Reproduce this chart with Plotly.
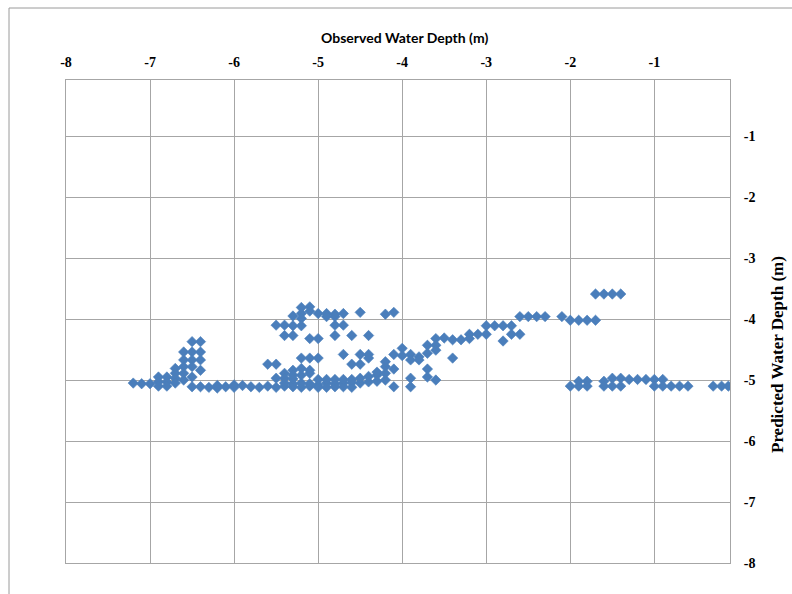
import plotly.graph_objects as go

# Observed vs. predicted water depth (m), grouped by region of the scatter

# left tail and the rising stack near -6.5 m
tail_obs = [-7.2, -7.1, -7.0,
            -6.9, -6.9, -6.9,
            -6.8, -6.8, -6.8,
            -6.7, -6.7, -6.7, -6.7,
            -6.6, -6.6, -6.6, -6.6, -6.6,
            -6.5, -6.5, -6.5, -6.5, -6.5, -6.5,
            -6.4, -6.4, -6.4, -6.4, -6.4]
tail_pred = [-5.05, -5.06, -5.06,
             -4.95, -5.03, -5.10,
             -4.95, -5.03, -5.10,
             -4.81, -4.89, -4.97, -5.05,
             -4.54, -4.67, -4.78, -4.89, -5.00,
             -4.37, -4.54, -4.67, -4.78, -4.95, -5.11,
             -4.37, -4.54, -4.67, -4.84, -5.11]

# flat band just below -5 m
band_obs = [-6.3, -6.2, -6.2, -6.1, -6.0, -6.0, -5.9, -5.8, -5.7, -5.6,
            -5.5, -5.4, -5.4, -5.3, -5.3, -5.2, -5.2, -5.1, -5.1, -5.0,
            -5.0, -4.9, -4.9, -4.8, -4.8, -4.7, -4.7, -4.6, -4.6, -4.5,
            -4.4, -4.3, -4.2, -4.1, -3.9]
band_pred = [-5.12, -5.13, -5.09, -5.11, -5.08, -5.12, -5.09, -5.11, -5.12, -5.10,
             -5.12, -5.10, -5.05, -5.11, -5.06, -5.12, -5.05, -5.10, -5.06, -5.08,
             -5.12, -5.05, -5.12, -5.06, -5.11, -5.05, -5.11, -5.04, -5.12, -5.05,
             -5.03, -5.02, -5.00, -5.11, -5.11]

# upper row of the band, around -4.8 to -5.0 m
row_obs = [-5.5, -5.4, -5.4, -5.3, -5.3, -5.3, -5.2, -5.2, -5.1, -5.1,
           -5.0, -4.9, -4.8, -4.7, -4.6, -4.5, -4.4, -4.3, -4.3, -4.2,
           -4.2, -4.2, -4.1]
row_pred = [-4.97, -4.89, -4.97, -4.84, -4.92, -4.98, -4.81, -4.92, -4.84, -4.89,
            -4.99, -4.99, -4.99, -4.99, -4.99, -4.97, -4.94, -4.92, -4.87, -4.89,
            -4.78, -4.70, -4.82]

# scattered cluster between -3.8 and -4.75 m
upper_obs = [-5.2, -5.1, -5.1, -5.2, -5.3, -5.2, -5.0, -4.9, -4.8, -4.7,
             -4.5, -4.9, -4.8,
             -5.5, -5.4, -5.3, -5.2, -4.8, -4.7,
             -5.4, -5.3, -5.1, -5.0, -4.8, -4.6, -4.4,
             -5.2, -5.1, -5.0, -4.7, -4.5, -4.4, -4.4,
             -5.6, -5.5, -4.6, -4.5,
             -4.2, -4.1]
upper_pred = [-3.81, -3.80, -3.87, -3.91, -3.95, -3.99, -3.91, -3.91, -3.92, -3.91,
              -3.89, -3.96, -3.96,
              -4.10, -4.10, -4.11, -4.11, -4.10, -4.10,
              -4.27, -4.27, -4.32, -4.32, -4.27, -4.27, -4.27,
              -4.64, -4.64, -4.64, -4.58, -4.58, -4.58, -4.64,
              -4.74, -4.74, -4.74, -4.74,
              -3.92, -3.89]

# rising trend from -4 m towards -1.4 m
ramp_obs = [-4.1, -4.0, -4.0, -3.9, -3.9, -3.8, -3.8, -3.7, -3.7, -3.6,
            -3.6, -3.6, -3.5, -3.4, -3.3, -3.2, -3.2, -3.1, -3.0, -3.0,
            -2.9, -2.8, -2.8, -2.7, -2.7, -2.6, -3.4,
            -2.6, -2.5, -2.4, -2.3, -2.1, -2.0, -1.9, -1.8, -1.7,
            -1.7, -1.6, -1.5, -1.4,
            -3.9, -3.7, -3.7, -3.6]
ramp_pred = [-4.58, -4.48, -4.60, -4.58, -4.67, -4.62, -4.67, -4.43, -4.56, -4.32,
             -4.43, -4.51, -4.31, -4.34, -4.34, -4.25, -4.32, -4.25, -4.11, -4.25,
             -4.11, -4.11, -4.36, -4.11, -4.25, -4.25, -4.64,
             -3.96, -3.96, -3.96, -3.96, -3.96, -4.02, -4.02, -4.02, -4.02,
             -3.59, -3.59, -3.59, -3.59,
             -4.97, -4.82, -4.95, -5.00]

# shallow end, flat near -5 m
shallow_obs = [-2.0, -1.9, -1.9, -1.8, -1.8, -1.6, -1.6, -1.5, -1.5, -1.4,
               -1.4, -1.3, -1.2, -1.1, -1.0, -1.0, -0.9, -0.9, -0.8, -0.7,
               -0.6, -0.3, -0.2, -0.12]
shallow_pred = [-5.10, -5.02, -5.10, -5.02, -5.10, -5.02, -5.10, -4.97, -5.10, -4.97,
                -5.10, -4.99, -4.99, -4.99, -4.99, -5.10, -4.99, -5.10, -5.10, -5.10,
                -5.10, -5.10, -5.10, -5.10]

tick_vals = [-8, -7, -6, -5, -4, -3, -2, -1]
tick_text = ["-8", "-7", "-6", "-5", "-4", "-3", "-2", "-1"]

observed = tail_obs + band_obs + row_obs + upper_obs + ramp_obs + shallow_obs
predicted = tail_pred + band_pred + row_pred + upper_pred + ramp_pred + shallow_pred

GRID = "#A6A6A6"
tick_font = dict(family="Liberation Serif", size=14, color="#000000", weight="bold")

fig = go.Figure(
    go.Scatter(
        x=observed,
        y=predicted,
        mode="markers",
        marker=dict(symbol="diamond", size=8, color="#4A7EBB",
                    line=dict(width=0.6, color="#4A7EBB")),
        showlegend=False,
    )
)

fig.update_layout(
    width=792,
    height=594,
    margin=dict(l=66, r=62, t=80, b=31),
    paper_bgcolor="white",
    plot_bgcolor="white",
    xaxis=dict(
        side="top",
        range=[-8, -0.1],
        tickvals=tick_vals,
        ticktext=tick_text,
        tickfont=tick_font,
        ticks="",
        ticklabelstandoff=6,
        showgrid=True,
        gridcolor=GRID,
        gridwidth=1,
        showline=True,
        linecolor=GRID,
        linewidth=1,
        mirror=True,
        zeroline=False,
    ),
    yaxis=dict(
        side="right",
        range=[-8, -0.08],
        tickvals=tick_vals,
        ticktext=tick_text,
        tickfont=tick_font,
        ticks="",
        ticklabelstandoff=10,
        showgrid=True,
        gridcolor=GRID,
        gridwidth=1,
        showline=True,
        linecolor=GRID,
        linewidth=1,
        mirror=True,
        zeroline=False,
    ),
    annotations=[
        dict(
            text="<b>Observed Water Depth (m)</b>",
            xref="paper", yref="paper",
            x=(404 - 66) / 664, y=(563 - 37) / 483,
            xanchor="center", yanchor="middle",
            showarrow=False,
            font=dict(family="Lato", size=14, color="#000000"),
        ),
        dict(
            text="<b>Predicted Water Depth (m)</b>",
            xref="paper", yref="paper",
            x=(778 - 66) / 664, y=(563 - 355) / 483,
            xanchor="center", yanchor="middle",
            textangle=-90,
            showarrow=False,
            font=dict(family="Liberation Serif", size=17, color="#000000"),
        ),
    ],
    shapes=[
        # outer chart frame, left and top edges
        dict(type="line", xref="paper", yref="paper",
             x0=(9 - 66) / 664, x1=(9 - 66) / 664, y0=(563 - 8) / 483, y1=-0.2,
             line=dict(color="#9A9A9A", width=1)),
        dict(type="line", xref="paper", yref="paper",
             x0=(9 - 66) / 664, x1=1.2, y0=(563 - 8) / 483, y1=(563 - 8) / 483,
             line=dict(color="#9A9A9A", width=1)),
    ],
)

fig.write_html("out.html")
